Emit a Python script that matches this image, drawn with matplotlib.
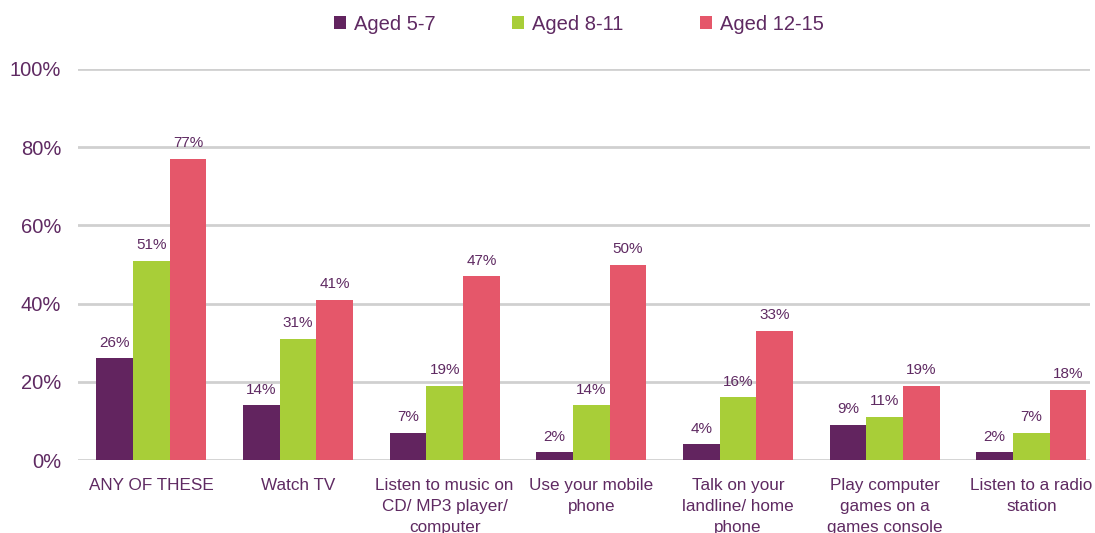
import numpy as np
import matplotlib.pyplot as plt
from matplotlib.patches import Patch

plt.rcParams['font.family'] = ['Liberation Sans', 'DejaVu Sans']

categories = ['ANY OF THESE', 'Watch TV', 'Listen to music on\nCD/ MP3 player/\ncomputer',
              'Use your mobile\nphone', 'Talk on your\nlandline/ home\nphone',
              'Play computer\ngames on a\ngames console', 'Listen to a radio\nstation']
aged_5_7 = [26, 14, 7, 2, 4, 9, 2]
aged_8_11 = [51, 31, 19, 14, 16, 11, 7]
aged_12_15 = [77, 41, 47, 50, 33, 19, 18]
series_names = ['Aged 5-7', 'Aged 8-11', 'Aged 12-15']
colors = ['#62245F', '#A8CE38', '#E5576A']
text_col = '#5F2A62'

fig = plt.figure(figsize=(10.95, 5.33), dpi=100)
ax = fig.add_axes([78 / 1095, 73 / 533, (1090 - 78) / 1095, (460 - 69) / 533])

x = np.arange(len(categories))
w = 0.25
for k, (vals, c) in enumerate(zip([aged_5_7, aged_8_11, aged_12_15], colors)):
    pos = x + (k - 1) * w
    ax.bar(pos, vals, width=w, color=c, zorder=3)
    for p, v in zip(pos, vals):
        ax.text(p, v + 2.2, f'{v}%', ha='center', va='bottom', fontsize=11, color=text_col)

ax.set_ylim(0, 100)
ax.set_xlim(-0.5, 6.4)
ax.set_yticks(range(0, 101, 20))
ax.set_yticklabels([f'{t}%' for t in range(0, 101, 20)], fontsize=14.5, color=text_col)
ax.set_xticks(x)
ax.set_xticklabels(categories, fontsize=12.3, color=text_col, linespacing=1.5, va='top')
ax.tick_params(axis='both', length=0)
ax.tick_params(axis='y', pad=12)
ax.tick_params(axis='x', pad=13)
ax.grid(axis='y', color='#D0D0D0', linewidth=2, zorder=0)
for s in ax.spines.values():
    s.set_visible(False)

handles = [Patch(facecolor=c, label=n) for c, n in zip(colors, series_names)]
leg = fig.legend(handles=handles, loc='center', bbox_to_anchor=(579 / 1095, 1 - 24 / 533), ncol=3,
                 frameon=False, fontsize=14.5, handlelength=0.6, handleheight=0.6,
                 handletextpad=0.4, columnspacing=3.8)
for t in leg.get_texts():
    t.set_color(text_col)

fig.savefig('out.png', dpi=100)
